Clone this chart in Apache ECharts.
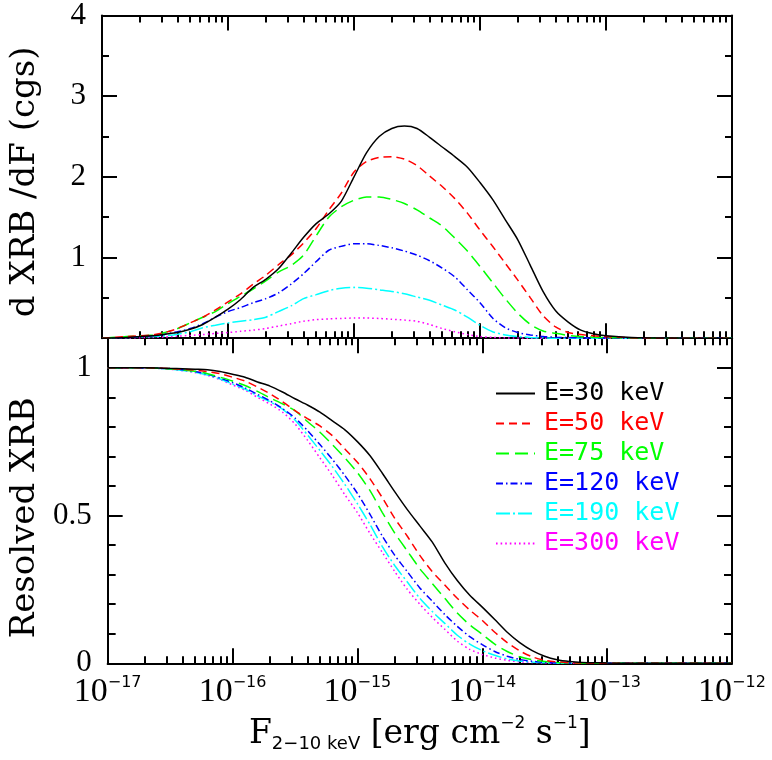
<!DOCTYPE html>
<html><head><meta charset="utf-8">
<script src="https://cdn.jsdelivr.net/npm/echarts@6/dist/echarts.min.js"></script>
<style>html,body{margin:0;padding:0;background:#fff}#c{width:772px;height:760px}</style>
</head><body><div id="c"></div>
<script>
// log10 of the 2-10 keV flux at which values were read
const logFlux = [-17.0,-16.8,-16.6,-16.5,-16.4,-16.3,-16.2,-16.1,-16.0,-15.9,-15.8,-15.7,-15.6,-15.5,-15.4,-15.3,-15.2,-15.1,-15.0,-14.9,-14.8,-14.7,-14.6,-14.5,-14.4,-14.3,-14.2,-14.1,-14.0,-13.9,-13.8,-13.7,-13.6,-13.5,-13.4,-13.3,-13.2,-13.1,-13.0,-12.8,-12.5,-12.0];

const seriesNames = ['E=30 keV','E=50 keV','E=75 keV','E=120 keV','E=190 keV','E=300 keV'];

// top panel: d XRB / dF
const diff30  = [0,0.01,0.03,0.05,0.07,0.11,0.17,0.26,0.36,0.48,0.63,0.73,0.86,1.05,1.25,1.42,1.54,1.70,2.00,2.30,2.50,2.60,2.63,2.60,2.49,2.37,2.25,2.12,1.93,1.72,1.47,1.22,0.90,0.58,0.34,0.20,0.10,0.055,0.03,0.008,0.001,0];
const diff50  = [0,0.02,0.04,0.07,0.12,0.19,0.26,0.35,0.45,0.55,0.67,0.78,0.91,1.03,1.18,1.36,1.59,1.80,2.06,2.19,2.24,2.25,2.22,2.14,2.01,1.88,1.73,1.55,1.34,1.14,0.93,0.72,0.50,0.28,0.14,0.07,0.045,0.03,0.02,0.005,0,0];
const diff75  = [0,0.02,0.04,0.07,0.12,0.19,0.26,0.33,0.43,0.52,0.61,0.71,0.82,0.90,1.03,1.27,1.50,1.63,1.71,1.75,1.75,1.72,1.67,1.59,1.49,1.39,1.24,1.08,0.89,0.69,0.49,0.31,0.17,0.09,0.06,0.035,0.02,0.012,0.008,0.002,0,0];
const diff120 = [0,0.01,0.03,0.05,0.08,0.12,0.18,0.26,0.33,0.38,0.44,0.49,0.56,0.67,0.80,0.95,1.09,1.14,1.17,1.17,1.15,1.12,1.08,1.03,0.96,0.87,0.76,0.60,0.44,0.25,0.13,0.07,0.04,0.02,0.012,0.008,0.005,0.003,0.002,0,0,0];
const diff190 = [0,0.01,0.02,0.03,0.05,0.08,0.13,0.16,0.19,0.21,0.23,0.26,0.33,0.40,0.49,0.54,0.59,0.62,0.63,0.62,0.60,0.58,0.55,0.51,0.47,0.41,0.35,0.26,0.16,0.08,0.04,0.02,0.01,0.005,0,0,0,0,0,0,0,0];
const diff300 = [0,0.003,0.01,0.015,0.025,0.035,0.045,0.06,0.07,0.085,0.10,0.12,0.15,0.18,0.21,0.23,0.24,0.245,0.25,0.25,0.245,0.235,0.225,0.21,0.17,0.12,0.08,0.045,0.02,0.01,0.004,0.002,0,0,0,0,0,0,0,0,0,0];

// bottom panel: resolved XRB fraction
const res30  = [1,1,0.999,0.998,0.997,0.995,0.993,0.987,0.978,0.968,0.952,0.938,0.918,0.895,0.874,0.850,0.82,0.79,0.75,0.703,0.643,0.58,0.52,0.465,0.41,0.34,0.28,0.23,0.19,0.148,0.105,0.07,0.043,0.024,0.012,0.006,0.003,0.002,0.001,0,0,0];
const res50  = [1,1,0.999,0.997,0.995,0.992,0.987,0.98,0.968,0.955,0.935,0.912,0.885,0.855,0.828,0.803,0.77,0.725,0.68,0.625,0.56,0.49,0.43,0.365,0.31,0.265,0.22,0.18,0.145,0.105,0.07,0.042,0.022,0.01,0.005,0.002,0.001,0,0,0,0,0];
const res75  = [1,1,0.998,0.996,0.993,0.988,0.98,0.968,0.955,0.94,0.92,0.898,0.878,0.855,0.818,0.782,0.74,0.695,0.645,0.585,0.51,0.44,0.38,0.32,0.27,0.22,0.17,0.13,0.098,0.065,0.04,0.022,0.012,0.006,0.003,0.001,0,0,0,0,0,0];
const res120 = [1,1,0.998,0.996,0.993,0.987,0.978,0.965,0.95,0.932,0.91,0.888,0.862,0.83,0.788,0.74,0.69,0.635,0.575,0.505,0.43,0.365,0.31,0.255,0.21,0.165,0.125,0.09,0.063,0.04,0.024,0.013,0.007,0.003,0.001,0,0,0,0,0,0,0];
const res190 = [1,1,0.998,0.995,0.991,0.985,0.975,0.962,0.945,0.928,0.905,0.885,0.86,0.823,0.773,0.72,0.665,0.605,0.54,0.47,0.395,0.33,0.275,0.22,0.175,0.135,0.095,0.065,0.043,0.027,0.015,0.008,0.004,0.002,0,0,0,0,0,0,0,0];
const res300 = [1,1,0.998,0.995,0.99,0.984,0.974,0.96,0.942,0.924,0.9,0.877,0.85,0.81,0.755,0.695,0.635,0.57,0.51,0.44,0.375,0.31,0.25,0.2,0.155,0.115,0.075,0.047,0.03,0.018,0.01,0.005,0.003,0.001,0,0,0,0,0,0,0,0];

const diffSets = [diff30,diff50,diff75,diff120,diff190,diff300];
const resSets  = [res30,res50,res75,res120,res190,res300];

// decade exponents of the x axis and the mantissas of its minor ticks
const decadeExponents = [-17,-16,-15,-14,-13,-12];
const minorMantissas = [2,3,4,5,6,7,8,9];

// styles
const colors = ['#000000','#ff0000','#00ff00','#0000ff','#00ffff','#ff00ff'];
const dashes = ['solid',[8,5],[13,6],[7,3,1.5,3],[14,3,2,3],[1.6,3]];

const flux = logFlux.map(l => Math.pow(10, l));
const minorLogTicks = [];
decadeExponents.slice(0, -1).forEach(n => minorMantissas.forEach(m => minorLogTicks.push(n + Math.log10(m))));

const K = '#000';
const AX = {color:K, width:2};

function xAxis(grid, pos, showLabel){
  return {
    type:'log', logBase:10, gridIndex:grid, position:pos, min:1e-17, max:1e-12,
    axisLine:{show:true, onZero:false, lineStyle:AX},
    axisTick:{show:true, inside:true, length:15, lineStyle:AX},
    minorTick:{show:false},
    splitLine:{show:false}, minorSplitLine:{show:false},
    axisLabel:{
      show:showLabel, margin:12,
      formatter: v => '{b|10}{s|\u2212' + Math.round(-Math.log10(v)) + '}',
      rich:{
        b:{fontFamily:'Liberation Serif', fontSize:34, lineHeight:34, color:K},
        s:{fontFamily:'DejaVu Sans', fontSize:16, lineHeight:18, verticalAlign:'top', color:K}
      }
    },
    name: showLabel ? '{F|F}{sub|2\u221210 keV}{m| [erg cm}{sup|\u22122}{m| s}{sup|\u22121}{m|]}' : '',
    nameLocation:'middle', nameGap:52,
    nameTextStyle:{
      rich:{
        F:{fontFamily:'DejaVu Serif', fontSize:33, lineHeight:38, color:K},
        m:{fontFamily:'DejaVu Serif', fontSize:33, lineHeight:38, color:K},
        sub:{fontFamily:'DejaVu Sans', fontSize:18, lineHeight:20, verticalAlign:'bottom', color:K},
        sup:{fontFamily:'DejaVu Sans', fontSize:17, lineHeight:20, verticalAlign:'top', color:K}
      }
    }
  };
}

// minor log ticks, drawn on a helper axis that runs in log10 units
function xMinorAxis(grid, pos){
  return {
    type:'value', gridIndex:grid, position:pos, min:-17, max:-12, interval:1,
    axisLine:{show:false, onZero:false},
    axisTick:{show:true, inside:true, length:7, lineStyle:AX, customValues:minorLogTicks},
    axisLabel:{show:false}, splitLine:{show:false}
  };
}
function xMajorAxis(grid, pos){
  return {
    type:'value', gridIndex:grid, position:pos, min:-17, max:-12, interval:1,
    axisLine:{show:false, onZero:false},
    axisTick:{show:true, inside:true, length:15, lineStyle:AX},
    axisLabel:{show:false}, splitLine:{show:false}
  };
}

function yAxis(grid, pos, opts){
  return Object.assign({
    type:'value', gridIndex:grid, position:pos,
    axisLine:{show:true, onZero:false, lineStyle:AX},
    axisTick:{show:true, inside:true, length:15, lineStyle:AX},
    splitLine:{show:false},
    axisLabel:{show:false}
  }, opts);
}

const yLabel = (hide) => ({
  show:true, margin:16, color:K, fontFamily:'Liberation Serif', fontSize:31,
  formatter: v => hide(v) ? '' : String(v)
});

const yAxes = [
  yAxis(0,'left',{min:0,max:4,interval:1,
    minorTick:{show:true,splitNumber:2,length:7,lineStyle:AX},
    axisLabel:yLabel(v => v === 0),
    name:'d XRB /dF (cgs)', nameLocation:'middle', nameGap:60,
    nameTextStyle:{fontFamily:'DejaVu Serif', fontSize:34, color:K, padding:[0,10,0,0]}}),
  yAxis(0,'right',{min:0,max:4,interval:1,
    minorTick:{show:true,splitNumber:2,length:7,lineStyle:AX}}),
  yAxis(1,'left',{min:0,max:1.1,interval:0.5,
    axisLabel:yLabel(v => Math.abs(v - 1.1) < 1e-6),
    name:'Resolved XRB', nameLocation:'middle', nameGap:60,
    nameTextStyle:{fontFamily:'DejaVu Serif', fontSize:34, color:K, padding:[0,34,0,0]}}),
  yAxis(1,'left',{min:0,max:1.1,interval:0.1,axisLine:{show:false},
    axisTick:{show:true,inside:true,length:8,lineStyle:AX}}),
  yAxis(1,'right',{min:0,max:1.1,interval:0.5}),
  yAxis(1,'right',{min:0,max:1.1,interval:0.1,axisLine:{show:false},
    axisTick:{show:true,inside:true,length:8,lineStyle:AX}})
];

const series = [];
seriesNames.forEach((name, k) => {
  const common = {
    type:'line', name, symbol:'none', showSymbol:false, smooth:0.25,
    color:colors[k], clip:true,
    lineStyle:{color:colors[k], width:1.5, type:dashes[k]},
    z: 10 - k
  };
  series.push(Object.assign({}, common, {xAxisIndex:0, yAxisIndex:0,
    data: flux.map((f, i) => [f, diffSets[k][i]])}));
  series.push(Object.assign({}, common, {xAxisIndex:2, yAxisIndex:2,
    data: flux.map((f, i) => [f, resSets[k][i]])}));
});

const chart = echarts.init(document.getElementById('c'), null, {renderer:'canvas'});
chart.setOption({
  animation:false,
  backgroundColor:'#fff',
  grid:[
    {left:100, right:40, top:12.7, height:325.5},
    {left:100, right:40, top:338.2, height:325.1}
  ],
  xAxis:[
    xAxis(0,'bottom',false), xAxis(0,'top',false), xAxis(1,'bottom',true), xAxis(1,'top',false),
    xMinorAxis(0,'bottom'), xMinorAxis(0,'top'), xMinorAxis(1,'bottom'), xMinorAxis(1,'top'),
    xMajorAxis(0,'bottom'), xMajorAxis(0,'top'), xMajorAxis(1,'bottom'), xMajorAxis(1,'top')
  ],
  yAxis:yAxes,
  legend:{
    show:true, orient:'vertical', left:490, top:376, itemWidth:39, itemHeight:14, itemGap:5,
    selectedMode:false,
    itemStyle:{opacity:0},
    textStyle:{fontFamily:'DejaVu Sans Mono', fontSize:25, padding:[0,0,0,4]},
    data: seriesNames.map((n, k) => ({name:n, textStyle:{color:colors[k]}}))
  },
  series
});
</script>
</body></html>
